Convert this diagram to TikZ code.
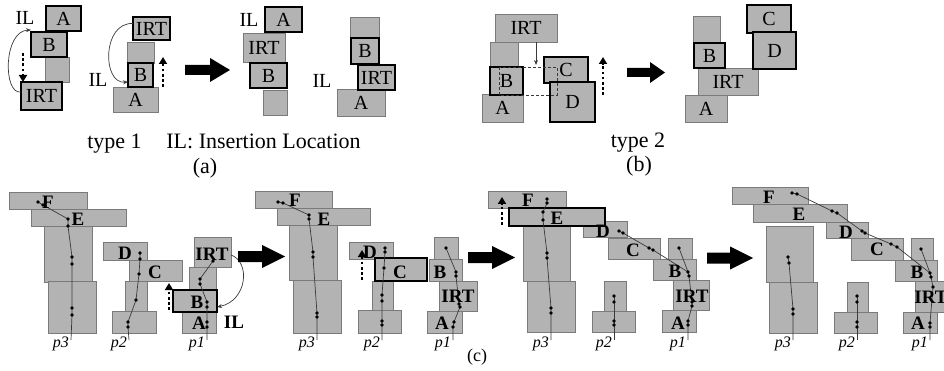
\documentclass[tikz,border=0pt]{standalone}
\usepackage{fontspec}
\setmainfont{Liberation Serif}
\usetikzlibrary{arrows.meta}
\definecolor{boxfill}{HTML}{B3B3B3}
\definecolor{boxline}{HTML}{7A7A7A}
\definecolor{chainc}{HTML}{3A3A3A}

\tikzset{
  box/.style={draw=boxline, line width=0.8pt, fill=boxfill, inner sep=0pt, outer sep=0pt,
              font=\fontsize{20}{20}\selectfont},
  hi/.style={draw=black, line width=2.8pt},
  lab/.style={font=\fontsize{20}{20}\selectfont, inner sep=0pt},
  clab/.style={font=\fontsize{19}{19}\selectfont\bfseries, inner sep=0pt},
  captext/.style={font=\fontsize{22}{22}\selectfont, inner sep=0pt, anchor=base},
  plab/.style={font=\fontsize{16}{16}\selectfont\itshape, inner sep=0pt, anchor=east},
  chainline/.style={draw=chainc, line width=0.7pt},
  dotc/.style={fill=black},
  motion/.style={line width=2.8pt, dash pattern=on 2.6pt off 2.6pt,
                 -{Triangle[width=8pt,length=7pt]}},
  ilarrow/.style={draw=chainc, line width=0.7pt, -{Stealth[length=5pt,width=4pt]}},
  guide/.style={draw=chainc, line width=0.8pt, dash pattern=on 3pt off 2pt},
  blockarrow/.style={fill=black},
}

% block: [style]{name}{x1}{y1}{x2}{y2}{text}
\newcommand\Blk[7][]{\node[box,#1,minimum width={(#5)-(#3)},minimum height={(#6)-(#4)}]
  (#2) at ({((#3)+(#5))/2},{((#4)+(#6))/2}) {#7};}
% big arrow: x1 x2 ycentre halfhead headlength halfshaft
\newcommand\BigArrow[6]{\fill[blockarrow] (#1,{#3-#6}) -- ({#2-#5},{#3-#6}) -- ({#2-#5},{#3-#4})
  -- (#2,#3) -- ({#2-#5},{#3+#4}) -- ({#2-#5},{#3+#6}) -- (#1,{#3+#6}) -- cycle;}
\newcommand\Dots[1]{\foreach \p in {#1} {\fill[dotc] \p circle (1.8pt);}}

\begin{document}
\begin{tikzpicture}[x=1pt,y=-1pt]
\path[use as bounding box] (0,0) rectangle (944,371);
\clip (0,0) rectangle (944,371);

% ---------------- (a) type 1 ----------------
\Blk{a1G}{45}{57}{69}{82}{}
\Blk[hi]{a1A}{46}{6}{81}{31}{A}
\Blk[hi]{a1B}{31}{32}{67}{57}{B}
\Blk[hi]{a1IRT}{21}{82}{62}{110}{IRT}
\node[lab] (a1IL) at (25,18) {IL};
\draw[ilarrow] ([yshift=4pt]a1IRT.west) .. controls (3,95) and (3,31) .. ([yshift=2pt]a1B.north west);
\coordinate (a1m0) at (23,53);
\draw[motion] (a1m0) -- (a1m0 |- a1IRT.north);

\Blk{a2G}{127}{42}{154}{63}{}
\Blk{a2A}{113}{87}{158}{112}{A}
\Blk[hi]{a2IRT}{133}{17}{170}{40}{IRT}
\Blk[hi]{a2B}{128}{63}{153}{87}{B}
\node[lab] (a2IL) at (98,80) {IL};
\draw[ilarrow] ([yshift=5pt]a2IRT.west) .. controls (102,22) and (102,84) .. ([yshift=5pt]a2B.south west);
\coordinate (a2m0) at (163,87);
\coordinate (a2m1) at (163,57);
\draw[motion] (a2m0) -- (a2m1);

\BigArrow{185}{230}{70}{12}{20}{5}

\Blk{a3G}{263}{90}{287}{115}{}
\Blk{a3IRT}{243}{33}{285}{62}{IRT}
\Blk[hi]{a3A}{265}{7}{302}{32}{A}
\Blk[hi]{a3B}{250}{63}{287}{88}{B}
\node[lab] (a3IL) at (249,20) {IL};

\Blk{a4G}{350}{17}{379}{38}{}
\Blk{a4A}{337}{89}{385}{116}{A}
\Blk[hi]{a4B}{351}{38}{379}{64}{B}
\Blk[hi]{a4IRT}{358}{65}{395}{90}{IRT}
\node[lab] (a4IL) at (322,81) {IL};

\node[captext] (capT1) at (114.5,149) {type 1};
\node[captext] (capIL) at (263.5,149) {IL: Insertion Location};
\node[captext] (capA) at (205,174) {(a)};

% ---------------- (b) type 2 ----------------
\Blk{b1IRT}{495}{14}{557}{42}{IRT}
\Blk{b1G}{490}{42}{518}{67}{}
\Blk{b1A}{482}{94}{523}{122}{A}
\Blk[hi]{b1B}{490}{67}{523}{95}{B}
\Blk[hi]{b1C}{544}{57}{588}{83}{C}
\Blk[hi]{b1D}{550}{82}{595}{122}{D}
\coordinate (b1g1) at (499,67);
\coordinate (b1g2) at (557,95);
\draw[guide] (b1g1) rectangle (b1g2);
\coordinate (b1m) at (536,65);
\draw[ilarrow] (b1IRT.south -| b1m) -- (b1m);
\coordinate (b1m0) at (603,95);
\coordinate (b1m1) at (603,57);
\draw[motion] (b1m0) -- (b1m1);

\BigArrow{627}{665}{72.5}{10.5}{15}{4.5}

\Blk{b2G}{693}{16}{720}{42}{}
\Blk{b2A}{685}{95}{727}{122}{A}
\Blk{b2IRT}{698}{68}{758}{95}{IRT}
\Blk[hi]{b2B}{694}{43}{725}{68}{B}
\Blk[hi]{b2C}{747}{5}{791}{33}{C}
\Blk[hi]{b2D}{753}{32}{796}{69}{D}

\node[captext] (capT2) at (638,148) {type 2};
\node[captext] (capB) at (639,172) {(b)};

% ---------------- (c) step 1 ----------------
\Blk{c1F}{9}{192}{87}{209}{}
\Blk{c1E}{31}{209}{126}{226}{}
\Blk{c1U}{44}{226}{92}{282}{}
\Blk{c1L}{48}{281}{96}{333}{}
\Blk{c1D}{103}{242}{147}{260}{}
\Blk{c1C}{129}{260}{182}{281}{}
\Blk{c1G}{125}{281}{147}{312}{}
\Blk{c1Bt}{112}{311}{156}{333}{}
\Blk{c1IRT}{194}{237}{231}{267}{}
\Blk{c1G1}{189}{267}{216}{290}{}
\Blk{c1A}{182}{312}{216}{333}{}
\Blk[hi]{c1B}{173}{290}{217}{312}{}

\draw[chainline] (38,202) -- (43,205) -- (68,219) -- (68,226) -- (72,257) -- (72,264) -- (72,308) -- (72,315) -- (71,340);
\Dots{(38,202),(43,205),(68,219),(68,226),(72,257),(72,264),(72,308),(72,315)}
\draw[chainline] (140,253) -- (140,259) -- (139,274) -- (136,300) -- (128,322) -- (128,327) -- (129,340);
\Dots{(140,253),(140,259),(139,274),(136,300),(128,322),(128,327)}
\draw[chainline] (213,261) -- (200,279) -- (200,284) -- (207,302) -- (207,307) -- (207,322) -- (207,327) -- (207,340);
\Dots{(213,261),(200,279),(200,284),(207,302),(207,307),(207,322),(207,327)}

\node[clab] (c1Fl) at (48,202) {F};
\node[clab] (c1El) at (78,219) {E};
\node[clab] (c1Dl) at (125,253) {D};
\node[clab] (c1Cl) at (155,272) {C};
\node[clab] (c1IRTl) at (212,254) {IRT};
\node[clab] (c1Bl) at (197,302) {B};
\node[clab] (c1Al) at (199,323) {A};
\node[clab] (c1IL) at (234,322) {IL};
\draw[ilarrow] ([yshift=-3pt]c1IRT.east) .. controls (251,262) and (247,301) .. ([yshift=5pt]c1B.south east);
\coordinate (c1m0) at (169,310);
\coordinate (c1m1) at (169,283);
\draw[motion] (c1m0) -- (c1m1);
\node[plab] (c1p3) at (69,344) {p3};
\node[plab] (c1p2) at (127,344) {p2};
\node[plab] (c1p1) at (205,344) {p1};

\BigArrow{238}{285}{256.5}{11.5}{23}{5.5}

% ---------------- (c) step 2 ----------------
\Blk{c2F}{255}{191}{332}{208}{}
\Blk{c2E}{277}{208}{370}{225}{}
\Blk{c2U}{289}{225}{337}{280}{}
\Blk{c2L}{293}{280}{341}{333}{}
\Blk{c2D}{349}{242}{393}{259}{}
\Blk{c2G}{372}{281}{393}{310}{}
\Blk{c2Bt}{358}{310}{401}{333}{}
\Blk{c2T}{434}{237}{458}{259}{}
\Blk{c2B}{429}{259}{462}{281}{}
\Blk{c2IRT}{439}{281}{477}{311}{}
\Blk{c2A}{427}{311}{462}{333}{}
\Blk[hi]{c2C}{375}{258}{427}{281}{}

\draw[chainline] (278,202) -- (283,203) -- (309,215) -- (309,219) -- (313,252) -- (313,257) -- (317,313) -- (317,317) -- (317,340);
\Dots{(278,202),(283,203),(309,215),(309,219),(313,252),(313,257),(317,313),(317,317)}
\draw[chainline] (385,248) -- (385,252) -- (384,268) -- (382,295) -- (382,301) -- (382,321) -- (382,325) -- (382,340);
\Dots{(385,248),(385,252),(384,268),(382,295),(382,301),(382,321),(382,325)}
\draw[chainline] (446,248) -- (456,272) -- (456,276) -- (459,304) -- (460,307) -- (454,322) -- (453,327) -- (453,340);
\Dots{(446,248),(456,272),(456,276),(459,304),(460,307),(454,322),(453,327)}

\node[clab] (c2Fl) at (295,200) {F};
\node[clab] (c2El) at (324,219) {E};
\node[clab] (c2Dl) at (370,252) {D};
\node[clab] (c2Cl) at (400,272) {C};
\node[clab] (c2Bl) at (440,272) {B};
\node[clab] (c2IRTl) at (458,296) {IRT};
\node[clab] (c2Al) at (442,323) {A};
\coordinate (c2m0) at (362,280);
\coordinate (c2m1) at (362,250);
\draw[motion] (c2m0) -- (c2m1);
\node[plab] (c2p3) at (315,344) {p3};
\node[plab] (c2p2) at (380,344) {p2};
\node[plab] (c2p1) at (451,344) {p1};

\BigArrow{468}{515}{257.5}{11.5}{23}{5.5}

% ---------------- (c) step 3 ----------------
\Blk{c3F}{488}{191}{566}{208}{}
\Blk{c3U}{523}{226}{570}{281}{}
\Blk{c3L}{527}{281}{575}{332}{}
\Blk{c3D}{583}{221}{627}{237}{}
\Blk{c3C}{608}{238}{660}{259}{}
\Blk{c3T}{668}{238}{692}{259}{}
\Blk{c3B}{653}{259}{696}{280}{}
\Blk{c3IRT}{673}{280}{709}{310}{}
\Blk{c3A}{662}{310}{696}{332}{}
\Blk{c3G}{604}{281}{626}{311}{}
\Blk{c3Bt}{592}{311}{635}{332}{}
\Blk[hi]{c3E}{509}{208}{605}{226}{}

\draw[chainline] (547,199) -- (547,203) -- (543,212) -- (543,220) -- (547,253) -- (547,258) -- (551,308) -- (551,313) -- (551,340);
\Dots{(547,199),(547,203),(543,212),(543,220),(547,253),(547,258),(551,308),(551,313)}
\draw[chainline] (619,231) -- (623,233) -- (649,248) -- (653,250) -- (688,272);
\Dots{(619,231),(623,233),(649,248),(653,250)}
\draw[chainline] (679,248) -- (688,272) -- (689,276) -- (692,302) -- (692,306) -- (688,321) -- (688,325) -- (688,340);
\Dots{(679,248),(688,272),(689,276),(692,302),(692,306),(688,321),(688,325)}
\draw[chainline] (614,296) -- (614,302) -- (614,321) -- (614,325) -- (614,340);
\Dots{(614,296),(614,302),(614,321),(614,325)}

\node[clab] (c3Fl) at (528,200) {F};
\node[clab] (c3El) at (557,218) {E};
\node[clab] (c3Dl) at (603,231) {D};
\node[clab] (c3Cl) at (633,250) {C};
\node[clab] (c3Bl) at (675,271) {B};
\node[clab] (c3IRTl) at (692,296) {IRT};
\node[clab] (c3Al) at (678,323) {A};
\coordinate (c3m0) at (502,225);
\coordinate (c3m1) at (502,197);
\draw[motion] (c3m0) -- (c3m1);
\node[plab] (c3p3) at (549,344) {p3};
\node[plab] (c3p2) at (612,344) {p2};
\node[plab] (c3p1) at (686,344) {p1};

\BigArrow{707}{753}{258}{11.5}{23}{5.5}

% ---------------- (c) step 4 ----------------
\Blk{c4F}{732}{187}{808}{204}{}
\Blk{c4E}{753}{204}{847}{222}{}
\Blk{c4D}{826}{222}{868}{238}{}
\Blk{c4C}{851}{238}{903}{260}{}
\Blk{c4T}{911}{238}{933}{260}{}
\Blk{c4B}{895}{260}{937}{281}{}
\Blk{c4IRT}{915}{281}{952}{312}{}
\Blk{c4A}{903}{312}{937}{333}{}
\Blk{c4U}{766}{226}{813}{282}{}
\Blk{c4L}{769}{282}{817}{333}{}
\Blk{c4G}{847}{282}{868}{312}{}
\Blk{c4Bt}{834}{312}{877}{333}{}

\draw[chainline] (788,257) -- (789,263) -- (793,309) -- (793,314) -- (793,340);
\Dots{(788,257),(789,263),(793,309),(793,314)}
\draw[chainline] (857,296) -- (857,302) -- (857,322) -- (857,327) -- (857,340);
\Dots{(857,296),(857,302),(857,322),(857,327)}
\draw[chainline] (792,193) -- (797,194) -- (832,211) -- (837,213) -- (862,231) -- (865,233) -- (891,244) -- (897,247) -- (930,273);
\Dots{(792,193),(797,194),(832,211),(837,213),(862,231),(865,233),(891,244),(897,247)}
\draw[chainline] (921,249) -- (930,273) -- (931,277) -- (933,287) -- (930,323) -- (930,327) -- (930,340);
\Dots{(921,249),(930,273),(931,277),(933,287),(930,323),(930,327)}

\node[clab] (c4Fl) at (769,197) {F};
\node[clab] (c4El) at (799,214) {E};
\node[clab] (c4Dl) at (846,232) {D};
\node[clab] (c4Cl) at (877,249) {C};
\node[clab] (c4Bl) at (917,272) {B};
\node[clab] (c4IRTl) at (931,297) {IRT};
\node[clab] (c4Al) at (918,323) {A};
\node[plab] (c4p3) at (791,344) {p3};
\node[plab] (c4p2) at (855,344) {p2};
\node[plab] (c4p1) at (928,344) {p1};

\node[captext, font=\fontsize{18}{18}\selectfont] (capC) at (477,361) {(c)};
\end{tikzpicture}
\end{document}
